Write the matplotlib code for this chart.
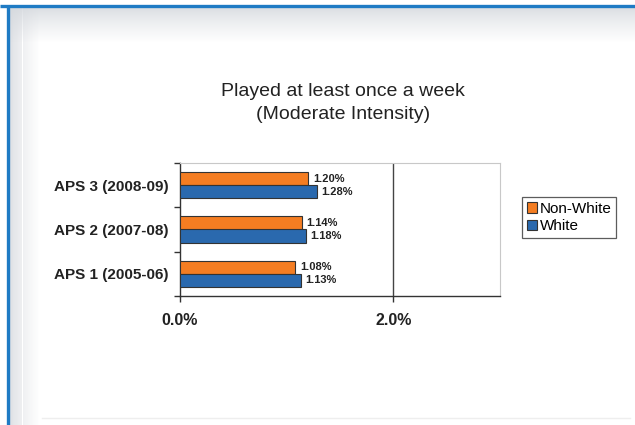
import numpy as np
import matplotlib
matplotlib.use("Agg")
import matplotlib.pyplot as plt
from matplotlib.patches import Rectangle

plt.rcParams['font.family'] = ['Liberation Sans', 'DejaVu Sans']

# Data
categories = ["APS 1 (2005-06)", "APS 2 (2007-08)", "APS 3 (2008-09)"]
non_white = [1.08, 1.14, 1.20]   # percent
white = [1.13, 1.18, 1.28]       # percent
series_names = ["Non-White", "White"]
x_ticks = [0.0, 2.0]
x_tick_labels = ["0.0%", "2.0%"]

W, H = 635, 425
fig = plt.figure(figsize=(W / 100, H / 100), dpi=100)
fig.patch.set_facecolor("white")

# Page frame: soft gray shading along top and left, blue border lines
bg = fig.add_axes([0, 0, 1, 1], zorder=-10)
bg.axis("off")
bg.set_xlim(0, W)
bg.set_ylim(H, 0)

n = 36
for i in range(n):
    a = 1 - (i / (n - 1)) ** 0.8
    # left band, fading to the right
    bg.add_patch(Rectangle((10 + i * 30 / n, 7), 30 / n, H - 7,
                           facecolor="#d6d9de", alpha=0.8 * a, edgecolor="none",
                           linewidth=0, zorder=1))
    # top band, fading downwards
    bg.add_patch(Rectangle((10, 7 + i * 36 / n), W - 10, 36 / n,
                           facecolor="#d3d7dc", alpha=0.85 * a, edgecolor="none",
                           linewidth=0, zorder=2))
bg.plot([0, W], [5.5, 5.5], color="#1f7bc4", lw=2.4, zorder=5, solid_capstyle="butt")
bg.plot([8, 8], [5, H], color="#1f7bc4", lw=2.4, zorder=5, solid_capstyle="butt")
bg.plot([42, W - 5], [418, 418], color="#eeeeee", lw=1.0, zorder=4)

# Chart area
left, right, top, bottom = 180, 500, 163, 296
ax = fig.add_axes([left / W, 1 - bottom / H, (right - left) / W, (bottom - top) / H])
ax.set_facecolor("white")

y = np.arange(len(categories))
h = 0.3
orange = "#f47d22"
blue = "#2a69ae"
b1 = ax.barh(y + h / 2, non_white, height=h, color=orange, edgecolor="#333333", linewidth=0.8,
             label=series_names[0], zorder=3)
b2 = ax.barh(y - h / 2, white, height=h, color=blue, edgecolor="#333333", linewidth=0.8,
             label=series_names[1], zorder=3)

for bars, vals in ((b1, non_white), (b2, white)):
    for rect, v in zip(bars, vals):
        ax.annotate(f"{v:.2f}%", xy=(v, rect.get_y() + rect.get_height() / 2),
                    xytext=(3.5, 0), textcoords="offset points", ha="left", va="center",
                    fontsize=8, fontweight="bold", color="#222222")

ax.set_xlim(0, 3.0)
ax.set_ylim(-0.5, 2.5)
ax.set_xticks(x_ticks)
ax.set_xticklabels(x_tick_labels, fontsize=11.5, fontweight="bold", color="#222222")
ax.tick_params(axis="x", length=4, width=1.0, direction="out", pad=8, color="#333333")
ax.set_yticks(y)
ax.set_yticklabels(categories, fontsize=11, fontweight="bold", color="#222222")
ax.set_yticks(np.arange(-0.5, 3.0, 1.0), minor=True)
ax.tick_params(axis="y", which="major", length=0, pad=8.5)
ax.tick_params(axis="y", which="minor", length=4, width=1.0, direction="out", color="#333333")

ax.axvline(2.0, color="#444444", lw=1.0, zorder=1)
for s in ("left", "bottom"):
    ax.spines[s].set_color("#333333")
    ax.spines[s].set_linewidth(1.0)
for s in ("top", "right"):
    ax.spines[s].set_color("#c8c8c8")
    ax.spines[s].set_linewidth(0.8)

cx = 343 / W
fig.text(cx, 1 - 92 / H, "Played at least once a week",
         ha="center", va="center", fontsize=14, color="#222222")
fig.text(cx, 1 - 115 / H, "(Moderate Intensity)",
         ha="center", va="center", fontsize=14, color="#222222")

leg = fig.legend(handles=[b1, b2], loc="upper left", bbox_to_anchor=(522 / W, 1 - 197 / H),
                 frameon=True, fancybox=False, fontsize=11, handlelength=0.7, handleheight=0.7,
                 handletextpad=0.15, borderpad=0.3, labelspacing=0.25, borderaxespad=0)
leg.get_frame().set_edgecolor("#333333")
leg.get_frame().set_linewidth(0.9)

fig.savefig("out.png", dpi=100)
